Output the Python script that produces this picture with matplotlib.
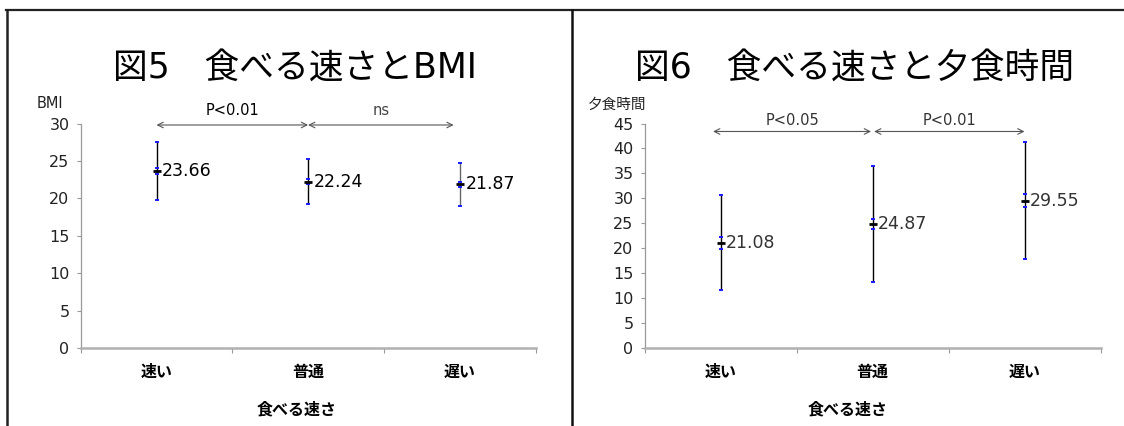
import matplotlib
matplotlib.use("Agg")
import matplotlib.pyplot as plt
from matplotlib.lines import Line2D

plt.rcParams['font.family'] = ['DejaVu Sans', 'Noto Sans CJK JP']

categories = ['速い', '普通', '遅い']

# Figure 5: BMI
bmi_mean = [23.66, 22.24, 21.87]
bmi_sd = [3.9, 2.95, 2.9]
bmi_se = [0.45, 0.34, 0.3]
bmi_ticks = [0, 5, 10, 15, 20, 25, 30]
bmi_tests = [('P<0.01', 0.0, 1.0), ('ns', 1.0, 1.96)]

# Figure 6: dinner time
din_mean = [21.08, 24.87, 29.55]
din_sd = [9.5, 11.55, 11.8]
din_se = [1.15, 0.95, 1.35]
din_ticks = [0, 5, 10, 15, 20, 25, 30, 35, 40, 45]
din_tests = [('P<0.05', -0.05, 0.99), ('P<0.01', 1.01, 2.0)]

W, H = 1124, 426
fig = plt.figure(figsize=(W / 100, H / 100), dpi=100)

def fx(px):
    return px / W

def fy(py):
    return 1 - py / H

# Outer frame lines
fig.add_artist(Line2D([fx(6), 1.0], [fy(10), fy(10)], color='#222222', lw=1.6))
fig.add_artist(Line2D([fx(7), fx(7)], [fy(10), 0], color='#222222', lw=1.8))
fig.add_artist(Line2D([fx(571.5), fx(571.5)], [fy(10), 0], color='#111111', lw=1.8))


def panel(left_px, right_px, means, sds, ses, ticks, ymax, tests, test_y, text_y,
          title, title_x, ylabel, ylabel_x, xlabel_x, label_color, line_colors, test_colors):
    ax = fig.add_axes([fx(left_px), fy(348), fx(right_px - left_px), (348 - 123.5) / H])
    x = list(range(len(categories)))
    for i in x:
        ax.errorbar(i, means[i], yerr=sds[i], fmt='none', ecolor=line_colors[i],
                    elinewidth=1.0, capsize=0, zorder=2)
        ax.errorbar(i, means[i], yerr=sds[i], fmt='none', ecolor='#1a1aff',
                    elinewidth=0, capsize=1.6, capthick=1.4, zorder=3)
        ax.errorbar(i, means[i], yerr=ses[i], fmt='none', ecolor='#1a1aff',
                    elinewidth=0, capsize=1.6, capthick=1.4, zorder=3)
    ax.plot(x, means, linestyle='none', marker='_', markersize=6, mew=2.0,
            color='black', zorder=4)
    for i in x:
        ax.annotate(f'{means[i]:.2f}', (i, means[i]), xytext=(4, 0),
                    textcoords='offset points', va='center', ha='left',
                    fontsize=12.5, color=label_color)
    for (txt, a, b), c in zip(tests, test_colors):
        ax.annotate('', xy=(a, test_y), xytext=(b, test_y),
                    arrowprops=dict(arrowstyle='<->', color='#555555', lw=0.8,
                                    shrinkA=0, shrinkB=0), annotation_clip=False)
        ax.text((a + b) / 2, text_y, txt, ha='center', va='center', fontsize=10.5,
                color=c, clip_on=False)
    ax.set_xlim(-0.5, 2.5)
    ax.set_ylim(0, ymax)
    ax.set_yticks(ticks)
    ax.set_yticklabels([str(t) for t in ticks], fontsize=11.5, color='#222222')
    ax.set_xticks(x)
    ax.set_xticklabels(categories, fontsize=11.5, fontweight='bold')
    ax.set_xticks([-0.5, 0.5, 1.5, 2.5], minor=True)
    ax.tick_params(axis='x', which='major', length=0, pad=12)
    ax.tick_params(axis='x', which='minor', length=3.5, color='#999999', width=0.8)
    ax.tick_params(axis='y', length=3, color='#999999', width=0.8, pad=5)
    for s in ['top', 'right']:
        ax.spines[s].set_visible(False)
    ax.spines['left'].set_color('#999999')
    ax.spines['left'].set_linewidth(0.9)
    ax.spines['bottom'].set_color('#b0b0b0')
    ax.spines['bottom'].set_linewidth(1.8)
    fig.text(fx(title_x), fy(68), title, ha='center', va='center', fontsize=25)
    fig.text(fx(ylabel_x), fy(104), ylabel, ha='left', va='center', fontsize=10.5,
             color='#222222')
    fig.text(fx(xlabel_x), fy(410), '食べる速さ', ha='center', va='center',
             fontsize=11.5, fontweight='bold')
    return ax


panel(80.7, 535.5, bmi_mean, bmi_sd, bmi_se, bmi_ticks, 30, bmi_tests, 29.8, 31.7,
      '図5　食べる速さとBMI', 295, 'BMI', 37, 297, 'black',
      ['black', 'black', '#666666'], ['black', '#444444'])

panel(644.7, 1100.5, din_mean, din_sd, din_se, din_ticks, 45, din_tests, 43.4, 45.6,
      '図6　食べる速さと夕食時間', 855, '夕食時間', 588, 848, '#333333',
      ['black', 'black', 'black'], ['#333333', '#333333'])

fig.savefig('out.png', dpi=100)
